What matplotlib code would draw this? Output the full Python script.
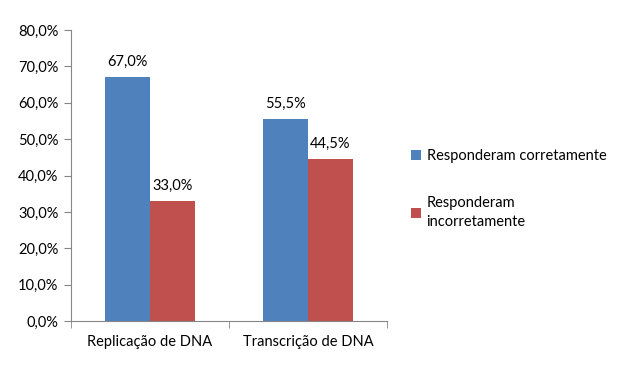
import matplotlib.pyplot as plt
import numpy as np
from matplotlib.ticker import FuncFormatter

categories = ['Replicação de DNA', 'Transcrição de DNA']
series_names = ['Responderam corretamente', 'Responderam\nincorretamente']
corretamente = [67.0, 55.5]
incorretamente = [33.0, 44.5]
colors = ['#4F81BD', '#C0504D']

plt.rcParams['font.family'] = ['Lato', 'DejaVu Sans']

fig = plt.figure(figsize=(6.3, 3.67), dpi=100)
ax = fig.add_axes([0.1127, 0.1253, 0.5016, 0.7929])

x = np.arange(len(categories))
w = 0.284
b1 = ax.bar(x - w / 2, corretamente, w, color=colors[0], label=series_names[0])
b2 = ax.bar(x + w / 2, incorretamente, w, color=colors[1], label=series_names[1])

def fmt(v):
    return f'{v:.1f}%'.replace('.', ',')

for bars, vals in ((b1, corretamente), (b2, incorretamente)):
    for rect, v in zip(bars, vals):
        ax.annotate(fmt(v), (rect.get_x() + rect.get_width() / 2, v),
                    xytext=(0, 6), textcoords='offset points',
                    ha='center', va='bottom', fontsize=10.5, color='black')

ax.set_xlim(-0.5, 1.5)
ax.set_ylim(0, 80)
ax.set_yticks(np.arange(0, 81, 10))
ax.yaxis.set_major_formatter(FuncFormatter(lambda v, p: fmt(v)))
ax.set_xticks(x)
ax.set_xticklabels(categories)
ax.set_xticks([-0.5, 0.5, 1.5], minor=True)
ax.tick_params(axis='x', which='major', length=0, pad=10, labelsize=10.5)
ax.tick_params(axis='x', which='minor', length=5, color='#868686')
ax.tick_params(axis='y', length=5, color='#868686', labelsize=10.5, pad=4)

for s in ('top', 'right'):
    ax.spines[s].set_visible(False)
for s in ('left', 'bottom'):
    ax.spines[s].set_color('#868686')

leg = fig.legend(handles=[b1, b2], labels=series_names, loc='upper left',
                 bbox_to_anchor=(0.632, 0.63), frameon=False, fontsize=10.5,
                 handlelength=0.7, handleheight=0.7, handletextpad=0.35,
                 labelspacing=2.3)
for t in leg.get_texts():
    t.set_linespacing(1.45)

fig.savefig('out.png', dpi=100)
